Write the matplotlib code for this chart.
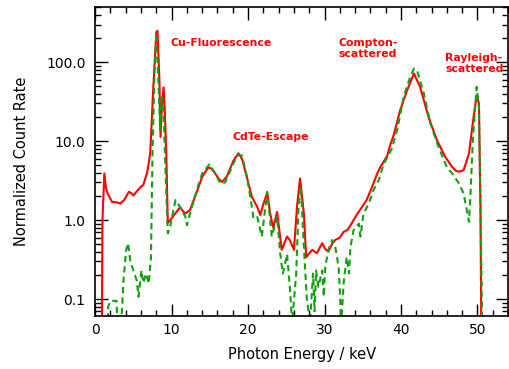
import matplotlib.pyplot as plt
import numpy as np
from matplotlib.ticker import LogLocator, MultipleLocator, FixedFormatter, FixedLocator, NullFormatter

# solid red spectrum
solid_kev = [0.85, 0.95, 1.2, 1.4, 1.6, 2.2, 2.8, 3.3, 3.8, 4.4, 4.7, 5.0, 5.5, 5.9, 6.3,
             6.8, 7.2, 7.6, 8.0, 8.15, 8.4, 8.55, 8.75, 8.95, 9.1, 9.3, 9.5, 9.8, 10.5,
             11.1, 11.5, 11.8, 12.4, 13.3, 14.0, 14.8, 15.2, 15.7, 16.2, 16.6, 17.2, 18.1,
             18.75, 19.2, 19.6, 20.5, 21.2, 21.6, 22.0, 22.5, 22.9, 23.3, 23.8, 24.4, 25.1,
             25.5, 26.0, 26.4, 26.8, 27.3, 27.6, 28.0, 28.4, 29.0, 29.4, 29.7, 30.1, 30.5,
             31.0, 31.4, 32.0, 32.5, 33.0, 33.4, 34.2, 35.5, 36.2, 36.9, 37.3, 38.2, 38.6,
             39.0, 39.9, 40.8, 41.7, 42.5, 43.6, 44.7, 45.8, 46.7, 47.2, 47.6, 48.2, 48.9,
             49.5, 49.9, 50.2, 50.4, 50.55]
solid_rate = [0.01, 1.0, 3.9, 2.6, 2.2, 1.7, 1.68, 1.62, 1.8, 2.28, 2.2, 2.05, 2.35, 2.6, 2.8,
              4.0, 7.0, 48, 240, 250, 60, 11.3, 30, 48, 25, 7, 0.92, 1.0, 1.22,
              1.45, 1.3, 1.21, 1.34, 2.28, 3.54, 4.64, 4.5, 3.9, 3.3, 3.05, 3.54, 5.7,
              7.0, 6.0, 4.3, 1.97, 1.47, 1.16, 1.6, 2.2, 1.2, 0.8, 1.27, 0.42, 0.62,
              0.55, 0.42, 1.47, 3.37, 1.21, 0.34, 0.38, 0.42, 0.38, 0.45, 0.51, 0.43, 0.40,
              0.5, 0.56, 0.6, 0.71, 0.75, 0.86, 1.16, 1.79, 2.6, 3.9, 4.7, 6.5, 9.0,
              11.5, 24.7, 44, 71.8, 48.7, 20.3, 10.3, 6.3, 4.7, 4.2, 4.1, 4.3, 7.0,
              20.3, 38, 30, 1.47, 0.01]

# dashed green spectrum
dashed_kev = [1.6, 1.7, 2.0, 2.5, 2.8, 2.95, 3.3, 3.7, 4.05, 4.3, 4.6, 5.0, 5.45, 5.67, 6.05,
              6.3, 6.65, 7.0, 7.3, 7.5, 7.77, 8.0, 8.3, 8.5, 8.7, 8.95, 9.15, 9.5, 9.8, 10.5,
              11.1, 11.8, 12.0, 12.65, 13.3, 14.0, 14.95, 15.7, 16.4, 17.0, 17.7, 18.55,
              19.2, 19.85, 20.5, 20.7, 21.2, 21.8, 22.5, 22.9, 23.1, 23.8, 24.2, 24.55,
              25.1, 25.5, 25.75, 26.3, 26.6, 26.9, 27.3, 27.7, 28.1, 28.5, 28.7, 28.9,
              29.2, 29.7, 29.9, 30.1, 30.5, 31.0, 31.4, 31.85, 32.2, 32.5, 32.9, 33.2,
              33.4, 33.8, 34.5, 34.7, 35.1, 35.8, 36.4, 37.1, 37.7, 38.3, 38.8, 39.5,
              40.35, 41.2, 41.7, 42.1, 43.0, 43.85, 44.9, 46.0, 46.7, 47.6, 48.2, 48.9,
              49.1, 49.4, 49.9, 50.2, 50.4, 50.65]
dashed_rate = [0.03, 0.08, 0.095, 0.095, 0.095, 0.03, 0.03, 0.17, 0.42, 0.51, 0.3, 0.23, 0.17,
               0.107, 0.23, 0.16, 0.21, 0.157, 0.34, 7, 79, 230, 48, 13.8, 36, 22.5, 5.7,
               0.68, 0.82, 1.79, 1.47, 1.1, 0.86, 1.47, 2.4, 3.9, 5.1, 3.9, 2.9, 3.0, 4.3,
               6.6, 6.6, 3.54, 1.47, 1.05, 1.1, 0.62, 2.28, 1.0, 0.62, 1.1, 0.38, 0.21,
               0.37, 0.13, 0.05, 0.21, 1.47, 2.64, 0.46, 0.097, 0.05, 0.21, 0.07, 0.23,
               0.143, 0.23, 0.107, 0.256, 0.42, 0.56, 0.46, 0.256, 0.05, 0.158, 0.34, 0.21,
               0.46, 0.75, 0.9, 0.62, 1.21, 1.63, 2.4, 3.2, 5.0, 6.5, 8.0, 13.8,
               36, 65, 83, 79, 40, 16.7, 8.5, 4.7, 3.9, 2.9, 2.17, 0.95,
               2.17, 10.3, 48.7, 27, 1.47, 0.03]

labels = ["Cu-Fluorescence", "CdTe-Escape", "Compton-\nscattered", "Rayleigh-\nscattered"]
label_pos = [(9.9, 200), (17.9, 13.0), (31.8, 200), (45.8, 130)]

plt.rcParams['font.family'] = 'DejaVu Sans'
fig = plt.figure(figsize=(5.09, 3.69), dpi=100)
ax = fig.add_axes([0.187, 0.1436, 0.811, 0.8374])

ax.plot(solid_kev, solid_rate, color='#ff0000', lw=1.5)
ax.plot(dashed_kev, dashed_rate, color='#10a010', lw=1.5, dashes=(3, 2))

for txt, (x, y) in zip(labels, label_pos):
    ax.text(x, y, txt, color='#ff0000', fontsize=7.8, fontweight='bold',
            va='top', ha='left', linespacing=1.05)

ax.set_yscale('log')
ax.set_xlim(0, 54)
ax.set_ylim(0.061, 500)

ax.yaxis.set_major_locator(FixedLocator([0.1, 1, 10, 100]))
ax.yaxis.set_major_formatter(FixedFormatter(['0.1', '1.0', '10.0', '100.0']))
ax.yaxis.set_minor_locator(LogLocator(base=10, subs=np.arange(2, 10)))
ax.yaxis.set_minor_formatter(NullFormatter())
ax.xaxis.set_major_locator(MultipleLocator(10))
ax.xaxis.set_minor_locator(MultipleLocator(2))

ax.tick_params(which='both', direction='in', top=True, right=True, labelsize=10, width=1)
ax.tick_params(which='major', length=9)
ax.tick_params(which='minor', length=4.5)
ax.tick_params(axis='y', pad=7)
ax.tick_params(axis='x', pad=5)
for s in ax.spines.values():
    s.set_linewidth(1.2)

ax.set_xlabel('Photon Energy / keV', fontsize=10.5, labelpad=7)
ax.set_ylabel('Normalized Count Rate', fontsize=10.5, labelpad=12)

fig.savefig('out.png', dpi=100)
